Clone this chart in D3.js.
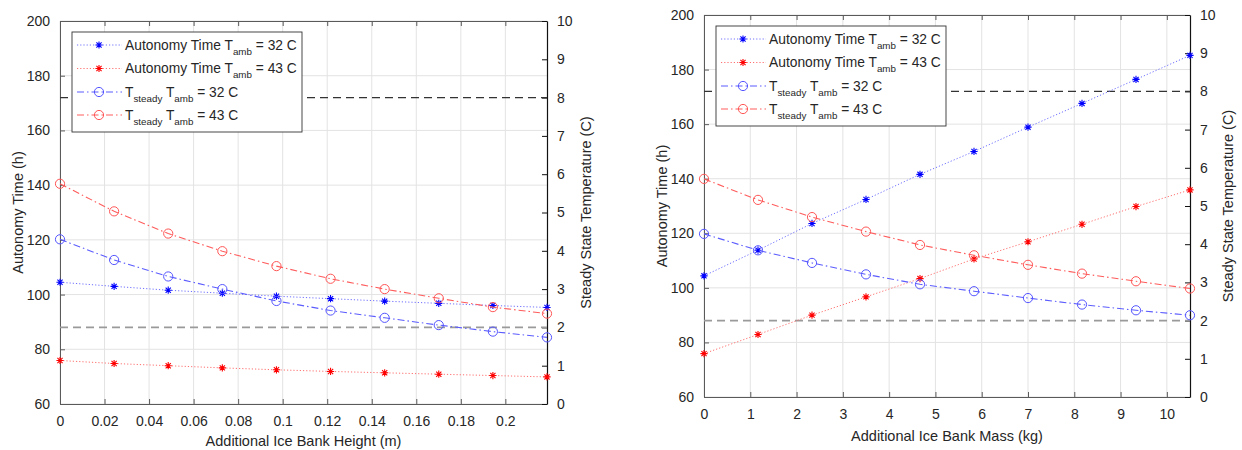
<!DOCTYPE html>
<html>
<head>
<meta charset="utf-8">
<script src="https://cdn.jsdelivr.net/npm/d3@7"></script>
<style>
  html, body { margin: 0; padding: 0; background: #fff; }
  svg { display: block; font-family: "Liberation Sans", Arial, sans-serif; }
</style>
</head>
<body>
<svg id="chart" width="1242" height="450"></svg>
<script>
// ---------- data ----------
const heightX = [0, 0.0243, 0.0486, 0.0729, 0.0972, 0.1215, 0.1458, 0.1701, 0.1944, 0.2187];
const heightAut32 = [104.5, 103.0, 101.6, 100.5, 99.4, 98.5, 97.6, 96.8, 96.0, 95.3];
const heightAut43 = [75.9, 74.8, 74.0, 73.2, 72.5, 71.9, 71.4, 70.9, 70.4, 69.9];
const heightT32 = [4.3, 3.76, 3.33, 3.0, 2.69, 2.44, 2.25, 2.06, 1.89, 1.74];
const heightT43 = [5.75, 5.03, 4.45, 3.99, 3.6, 3.27, 3.0, 2.76, 2.53, 2.36];

const massX = [0, 1.1667, 2.3333, 3.5, 4.6667, 5.8333, 7, 8.1667, 9.3333, 10.5];
const massAut32 = [104.4, 113.8, 123.6, 132.4, 141.6, 150.0, 158.9, 167.6, 176.4, 185.2];
const massAut43 = [75.9, 82.9, 90.0, 96.7, 103.4, 110.6, 116.9, 123.3, 129.8, 135.9];
const massT32 = [4.27, 3.84, 3.51, 3.21, 2.95, 2.77, 2.59, 2.42, 2.27, 2.14];
const massT43 = [5.71, 5.16, 4.71, 4.33, 3.98, 3.71, 3.46, 3.23, 3.03, 2.84];

const heightTicks = [0, 0.02, 0.04, 0.06, 0.08, 0.1, 0.12, 0.14, 0.16, 0.18, 0.2];
const massTicks = [0, 1, 2, 3, 4, 5, 6, 7, 8, 9, 10];
const leftYTicks = [60, 80, 100, 120, 140, 160, 180, 200];
const rightYTicks = [0, 1, 2, 3, 4, 5, 6, 7, 8, 9, 10];
const refLevels = [8, 2];

const legendLabels = [
  ["Autonomy Time T", "amb", " = 32 C"],
  ["Autonomy Time T", "amb", " = 43 C"],
  ["T", "steady", " T", "amb", " = 32 C"],
  ["T", "steady", " T", "amb", " = 43 C"]
];

// ---------- drawing ----------
const svg = d3.select("#chart");
const AX = "#262626";

function starPath(r) {
  const d = r * 0.72;
  return `M${-r},0L${r},0M0,${-r}L0,${r}M${-d},${-d}L${d},${d}M${-d},${d}L${d},${-d}`;
}

const styles = [
  { color: "#0000ff", lineColor: "#7070ff", dash: "1.2,2", width: 1, marker: "star" },
  { color: "#ff0000", lineColor: "#ff7070", dash: "1.2,2", width: 1, marker: "star" },
  { color: "#5555ff", lineColor: "#5c5cff", dash: "7,3,1.5,3", width: 1.1, marker: "circle" },
  { color: "#ff5555", lineColor: "#ff5c5c", dash: "7,3,1.5,3", width: 1.1, marker: "circle" }
];

function drawMarker(sel, st) {
  if (st.marker === "star") {
    sel.append("path").attr("d", starPath(3.6))
      .attr("stroke", st.color).attr("stroke-width", 1.1).attr("fill", "none");
  } else {
    sel.append("circle").attr("r", 4.6)
      .attr("stroke", st.color).attr("stroke-width", 1).attr("fill", "none");
  }
}

function drawChart(cfg) {
  const { left, top, right, bottom } = cfg;
  const g = svg.append("g");
  const x = d3.scaleLinear().domain(cfg.xDomain).range([left, right]);
  const yL = d3.scaleLinear().domain([60, 200]).range([bottom, top]);
  const yR = d3.scaleLinear().domain([0, 10]).range([bottom, top]);

  // grid
  g.append("g").selectAll("line").data(cfg.xTicks).join("line")
    .attr("x1", d => x(d)).attr("x2", d => x(d))
    .attr("y1", top).attr("y2", bottom)
    .attr("stroke", "#e3e3e3").attr("stroke-width", 1);
  g.append("g").selectAll("line").data(leftYTicks).join("line")
    .attr("x1", left).attr("x2", right)
    .attr("y1", d => yL(d)).attr("y2", d => yL(d))
    .attr("stroke", "#e3e3e3").attr("stroke-width", 1);

  // axes
  const xAxisB = d3.axisBottom(x).tickValues(cfg.xTicks).tickSizeInner(-5).tickSizeOuter(0)
    .tickPadding(12).tickFormat(d3.format("~g"));
  const gx = g.append("g").attr("transform", `translate(0,${bottom})`).call(xAxisB);
  const xAxisT = d3.axisTop(x).tickValues(cfg.xTicks).tickSizeInner(-5).tickSizeOuter(0).tickFormat("");
  const gxt = g.append("g").attr("transform", `translate(0,${top})`).call(xAxisT);
  const yAxisL = d3.axisLeft(yL).tickValues(leftYTicks).tickSizeInner(-5).tickSizeOuter(0).tickPadding(10);
  const gyl = g.append("g").attr("transform", `translate(${left},0)`).call(yAxisL);
  const yAxisR = d3.axisRight(yR).tickValues(rightYTicks).tickSizeInner(-5).tickSizeOuter(0).tickPadding(10);
  const gyr = g.append("g").attr("transform", `translate(${right},0)`).call(yAxisR);

  [gx, gxt, gyl].forEach(a => {
    a.select(".domain").attr("stroke", "#5a5a5a").attr("stroke-width", 1);
    a.selectAll(".tick line").attr("stroke", "#5a5a5a");
  });
  gyr.select(".domain").attr("stroke", "#111").attr("stroke-width", 1.2);
  gyr.selectAll(".tick line").attr("stroke", "#111");
  [gx, gyl, gyr].forEach(a => a.selectAll(".tick text")
    .attr("font-size", 14).attr("fill", AX).attr("font-family", "Liberation Sans, Arial, sans-serif"));

  // reference lines (right axis)
  g.append("line").attr("x1", left).attr("x2", right)
    .attr("y1", yR(refLevels[0])).attr("y2", yR(refLevels[0]))
    .attr("stroke", "#333").attr("stroke-width", 1.3).attr("stroke-dasharray", "8,5");
  g.append("line").attr("x1", left).attr("x2", right)
    .attr("y1", yR(refLevels[1])).attr("y2", yR(refLevels[1]))
    .attr("stroke", "#9a9a9a").attr("stroke-width", 1.6).attr("stroke-dasharray", "8,5");

  // series
  const series = [
    { ys: cfg.aut32, scale: yL, st: styles[0] },
    { ys: cfg.aut43, scale: yL, st: styles[1] },
    { ys: cfg.t32, scale: yR, st: styles[2] },
    { ys: cfg.t43, scale: yR, st: styles[3] }
  ];
  series.forEach(s => {
    const pts = cfg.xs.map((xv, i) => [x(xv), s.scale(s.ys[i])]);
    g.append("path").attr("d", d3.line()(pts))
      .attr("fill", "none").attr("stroke", s.st.lineColor)
      .attr("stroke-width", s.st.width).attr("stroke-dasharray", s.st.dash);
    pts.forEach(p => {
      const m = g.append("g").attr("transform", `translate(${p[0]},${p[1]})`);
      drawMarker(m, s.st);
    });
  });

  // axis titles
  g.append("text").attr("transform", `translate(${cfg.yLabelLX},${(top + bottom) / 2}) rotate(-90)`)
    .attr("text-anchor", "middle").attr("font-size", 14.5).attr("fill", AX).text("Autonomy Time (h)");
  g.append("text").attr("transform", `translate(${cfg.yLabelRX},${(top + bottom) / 2}) rotate(-90)`)
    .attr("text-anchor", "middle").attr("font-size", 14.5).attr("fill", AX).text("Steady State Temperature (C)");
  g.append("text").attr("x", (left + right) / 2).attr("y", cfg.xLabelY)
    .attr("text-anchor", "middle").attr("font-size", 14.5).attr("fill", AX).text(cfg.xLabel);

  // legend
  const lg = g.append("g").attr("transform", `translate(${cfg.legX},${cfg.legY})`);
  lg.append("rect").attr("x", 0).attr("y", 0).attr("width", 230).attr("height", 100)
    .attr("fill", "#fff").attr("stroke", "#333").attr("stroke-width", 0.9);
  const rowY = [13, 36.5, 60, 83];
  legendLabels.forEach((lab, i) => {
    const st = styles[i];
    const yy = rowY[i];
    lg.append("line").attr("x1", 5).attr("x2", 50).attr("y1", yy).attr("y2", yy)
      .attr("stroke", st.lineColor).attr("stroke-width", st.width).attr("stroke-dasharray", st.dash);
    const m = lg.append("g").attr("transform", `translate(27,${yy})`);
    drawMarker(m, st);
    const t = lg.append("text").attr("x", 53).attr("y", yy + 4.5)
      .attr("font-size", 13.8).attr("fill", AX);
    lab.forEach((part, k) => {
      const isSub = (lab.length === 3 && k === 1) || (lab.length === 5 && (k === 1 || k === 3));
      const ts = t.append("tspan").text(part);
      if (isSub) ts.attr("font-size", 9.8).attr("dy", 5);
      else if (k > 0) ts.attr("dy", -5);
    });
  });
}

drawChart({
  left: 60, right: 547, top: 21, bottom: 404,
  xDomain: [0, heightX[heightX.length - 1]], xTicks: heightTicks, xs: heightX,
  aut32: heightAut32, aut43: heightAut43, t32: heightT32, t43: heightT43,
  xLabel: "Additional Ice Bank Height (m)", xLabelY: 446,
  yLabelLX: 23, yLabelRX: 591,
  legX: 72, legY: 32
});

drawChart({
  left: 704, right: 1190, top: 15, bottom: 397,
  xDomain: [0, massX[massX.length - 1]], xTicks: massTicks, xs: massX,
  aut32: massAut32, aut43: massAut43, t32: massT32, t43: massT43,
  xLabel: "Additional Ice Bank Mass (kg)", xLabelY: 441,
  yLabelLX: 667, yLabelRX: 1233,
  legX: 716, legY: 26
});
</script>
</body>
</html>
